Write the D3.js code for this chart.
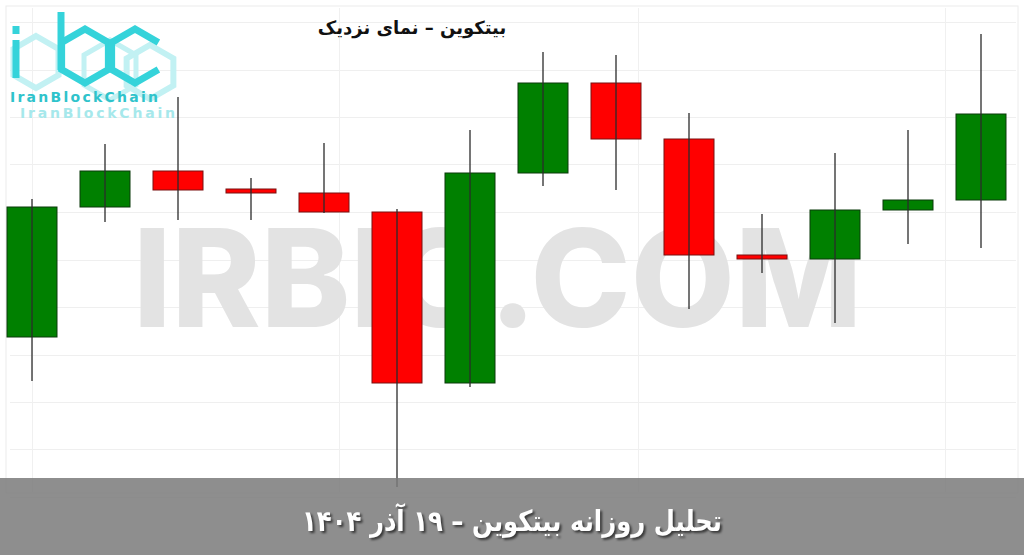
<!DOCTYPE html>
<html>
<head>
<meta charset="utf-8">
<script src="https://cdn.jsdelivr.net/npm/d3@7"></script>
<style>
  body { margin: 0; background: #fff; overflow: hidden; }
  svg { display: block; }
</style>
</head>
<body>
<div class="chart"></div>
<script>
var width = 1024, height = 555;

// candle data
var candles = ["1","2","3","4","5","6","7","8","9","10","11","12","13","14"];
var open  = [91130, 92430, 92790, 92610, 92570, 92380, 90670, 92770, 93670, 93110, 91950, 91910, 92400, 92500];
var close = [92430, 92790, 92600, 92570, 92380, 90670, 92770, 93670, 93110, 91950, 91910, 92400, 92500, 93360];
var high  = [92510, 93060, 93530, 92720, 93070, 92410, 93200, 93980, 93950, 93370, 92360, 92970, 93200, 94160];
var low   = [90690, 92280, 92300, 92300, 92370, 89630, 90630, 92640, 92600, 91410, 91770, 91270, 92060, 92020];

// background grid levels
var gridPrices = [94280, 93805, 93330, 92855, 92380, 91905, 91430, 90955, 90480, 90005, 89530];
var gridIdx = [0, 4.2, 8.3, 12.5];

var title = "بیتکوین – نمای نزدیک";
var footer = "تحلیل روزانه بیتکوین – ۱۹ آذر ۱۴۰۴";

var data = candles.map(function(c, i) {
  return { name: c, i: i, o: open[i], c: close[i], h: high[i], l: low[i] };
});

var svg = d3.select(".chart")
  .append("svg")
    .attr("width", width)
    .attr("height", height);

var x = d3.scaleLinear()
  .domain([0, candles.length - 1])
  .range([32, 981]);

var y = d3.scaleLinear()
  .domain([88950, 94500])
  .range([555, 0]);

var bodyW = (x(1) - x(0)) * 0.685;

// faint frame + grid
svg.append("rect")
  .attr("x", 6).attr("y", 6)
  .attr("width", 1012).attr("height", 487)
  .attr("fill", "none")
  .attr("stroke", "#ececec");

svg.selectAll(".hgrid")
  .data(gridPrices)
  .enter().append("line")
    .attr("class", "hgrid")
    .attr("x1", 10).attr("x2", 1016)
    .attr("y1", function(d) { return Math.round(y(d)) + 0.5; })
    .attr("y2", function(d) { return Math.round(y(d)) + 0.5; })
    .attr("stroke", "#efefef");

svg.selectAll(".vgrid")
  .data(gridIdx)
  .enter().append("line")
    .attr("class", "vgrid")
    .attr("x1", function(d) { return Math.round(x(d)) + 0.5; })
    .attr("x2", function(d) { return Math.round(x(d)) + 0.5; })
    .attr("y1", 8).attr("y2", 492)
    .attr("stroke", "#f0f0f0");

// watermark
svg.append("text")
  .attr("x", 133)
  .attr("y", 327)
  .attr("textLength", 729)
  .attr("lengthAdjust", "spacingAndGlyphs")
  .style("font-family", "Inter, Lato, sans-serif")
  .style("font-weight", 800)
  .style("font-size", "136px")
  .attr("fill", "#e3e3e3")
  .text("IRBIC.COM");

// candles
var g = svg.selectAll(".candle")
  .data(data)
  .enter().append("g")
    .attr("class", "candle");

g.append("rect")
  .attr("x", function(d) { return x(d.i) - bodyW / 2; })
  .attr("y", function(d) { return y(Math.max(d.o, d.c)); })
  .attr("width", bodyW)
  .attr("height", function(d) { return Math.max(3, y(Math.min(d.o, d.c)) - y(Math.max(d.o, d.c))); })
  .attr("fill", function(d) { return d.c >= d.o ? "#008000" : "#ff0000"; })
  .attr("stroke", function(d) { return d.c >= d.o ? "#0a3a0a" : "#7a1010"; })
  .attr("stroke-width", 1);

g.append("line")
  .attr("x1", function(d) { return x(d.i); })
  .attr("x2", function(d) { return x(d.i); })
  .attr("y1", function(d) { return y(d.h); })
  .attr("y2", function(d) { return y(d.l); })
  .attr("stroke", "#2b2b2b")
  .attr("stroke-width", 1.3);

// title
svg.append("text")
  .attr("x", 412)
  .attr("y", 34)
  .attr("text-anchor", "middle")
  .attr("direction", "rtl")
  .style("font-family", "'DejaVu Sans', sans-serif")
  .style("font-weight", "bold")
  .style("font-size", "18px")
  .attr("fill", "#111")
  .text(title);

// logo
var logo = svg.append("g").attr("class", "logo");
var cyan = "#35d3da", pale = "#c2f1f3";
function hexPts(cx, cy, r) {
  // pointy-top hexagon, starting at the top vertex, clockwise
  return d3.range(6).map(function(k) {
    var a = -Math.PI / 2 + Math.PI / 3 * k;
    return [cx + r * Math.cos(a), cy + r * Math.sin(a)];
  });
}
function hex(cx, cy, r) { return "M" + hexPts(cx, cy, r).join("L") + "Z"; }
logo.append("path").attr("d", hex(150, 72, 27)).attr("fill", "none")
  .attr("stroke", pale).attr("stroke-width", 6);
logo.append("path").attr("d", hex(36, 62, 26)).attr("fill", "none")
  .attr("stroke", pale).attr("stroke-width", 6);
logo.append("path").attr("d", hex(110, 70, 30)).attr("fill", "none")
  .attr("stroke", pale).attr("stroke-width", 5);
// i
logo.append("line").attr("x1", 16).attr("x2", 16).attr("y1", 26).attr("y2", 34)
  .attr("stroke", cyan).attr("stroke-width", 7);
logo.append("line").attr("x1", 16).attr("x2", 16).attr("y1", 40).attr("y2", 78)
  .attr("stroke", cyan).attr("stroke-width", 7);
// b
logo.append("line").attr("x1", 61).attr("x2", 61).attr("y1", 12).attr("y2", 70)
  .attr("stroke", cyan).attr("stroke-width", 7);
logo.append("path").attr("d", hex(85, 56, 27)).attr("fill", "none")
  .attr("stroke", cyan).attr("stroke-width", 7);
// c: hexagon with the right side open
var cp = hexPts(135, 56, 27);
logo.append("path").attr("d", "M" + [cp[1], cp[0], cp[5], cp[4], cp[3], cp[2]].join("L"))
  .attr("fill", "none").attr("stroke", cyan).attr("stroke-width", 7);
logo.append("text")
  .attr("x", 10).attr("y", 102)
  .attr("textLength", 148)
  .style("font-family", "'DejaVu Sans', sans-serif")
  .style("font-weight", "bold")
  .style("font-size", "14px")
  .attr("fill", "#2fc3cb")
  .text("IranBlockChain");
logo.append("text")
  .attr("x", 20).attr("y", 118)
  .attr("textLength", 155)
  .style("font-family", "'DejaVu Sans', sans-serif")
  .style("font-weight", "bold")
  .style("font-size", "14px")
  .attr("fill", "#a6e8eb")
  .text("IranBlockChain");

// footer band
svg.append("rect")
  .attr("x", 0).attr("y", 478)
  .attr("width", width).attr("height", height - 478)
  .attr("fill", "#7c7c7c")
  .attr("opacity", 0.86);

svg.append("text")
  .attr("x", 512)
  .attr("y", 531)
  .attr("text-anchor", "middle")
  .attr("direction", "rtl")
  .attr("textLength", 420)
  .attr("lengthAdjust", "spacingAndGlyphs")
  .style("font-family", "'DejaVu Sans', sans-serif")
  .style("font-weight", "bold")
  .style("font-size", "29px")
  .attr("fill", "#fff")
  .style("filter", "drop-shadow(2px 2px 1px rgba(0,0,0,0.6))")
  .text(footer);
</script>
</body>
</html>
